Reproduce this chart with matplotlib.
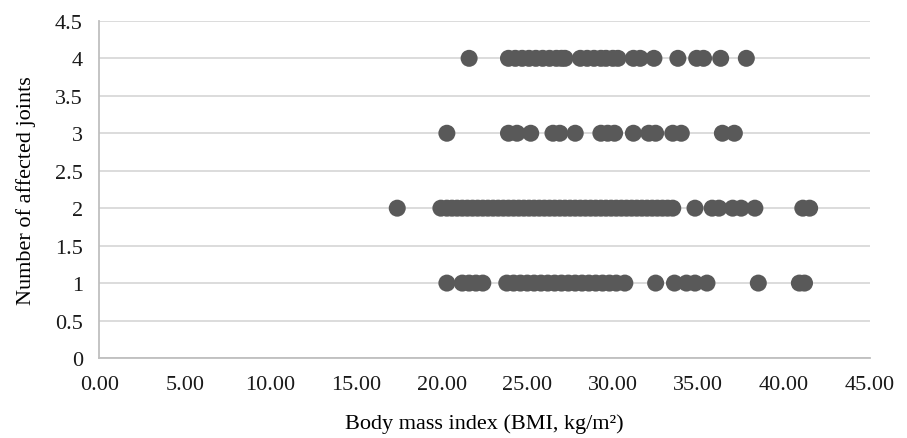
import numpy as np
import matplotlib.pyplot as plt
from matplotlib.ticker import FormatStrFormatter

plt.rcParams['font.family'] = ['Liberation Serif', 'DejaVu Serif']

# BMI values, grouped by number of affected joints
bmi_4 = [21.6, 23.9, 24.3, 24.7, 25.1, 25.5, 25.9, 26.3, 26.7, 27.0, 27.2,
         28.1, 28.5, 28.9, 29.3, 29.6, 30.0, 30.3, 31.2, 31.6, 32.4,
         33.8, 34.9, 35.3, 36.3, 37.8]
bmi_3 = [20.3, 23.9, 24.4, 25.2, 26.5, 26.9, 27.8, 29.3, 29.7, 30.1, 31.2,
         32.1, 32.5, 33.5, 34.0, 36.4, 37.1]
bmi_2 = [17.4, 19.95, 20.3, 20.6, 20.9, 21.2, 21.5, 21.8, 22.1, 22.4, 22.7,
         23.0, 23.3, 23.6, 23.9, 24.2, 24.5, 24.8, 25.1, 25.4, 25.7, 26.0,
         26.3, 26.6, 26.9, 27.2, 27.5, 27.8, 28.1, 28.4, 28.7, 29.0, 29.3,
         29.6, 29.9, 30.2, 30.5, 30.8, 31.1, 31.4, 31.7, 32.0, 32.3, 32.6,
         32.9, 33.2, 33.5, 34.8, 35.8, 36.2, 37.0, 37.5, 38.3, 41.1, 41.5]
bmi_1 = [20.3, 21.2, 21.6, 22.0, 22.4, 23.8, 24.2, 24.6, 25.0, 25.4, 25.8,
         26.2, 26.6, 27.0, 27.4, 27.8, 28.2, 28.6, 29.0, 29.4, 29.8, 30.2,
         30.7, 32.5, 33.6, 34.3, 34.8, 35.5, 38.5, 40.9, 41.2]
joints = [4, 3, 2, 1]

fig = plt.figure(figsize=(9.07, 4.39), dpi=100)
ax = fig.add_axes([0.1097, 0.1822, 0.849, 0.768])

for j, vals in zip(joints, [bmi_4, bmi_3, bmi_2, bmi_1]):
    ax.scatter(vals, [j] * len(vals), s=150, color='#595959', edgecolors='none', zorder=3)

ax.set_xlim(0, 45)
ax.set_ylim(0, 4.5)
ax.set_xticks(np.arange(0, 45.1, 5))
ax.set_yticks(np.arange(0, 4.51, 0.5))
ax.xaxis.set_major_formatter(FormatStrFormatter('%.2f'))
ax.yaxis.set_major_formatter(FormatStrFormatter('%g'))
ax.tick_params(length=0, labelsize=16, colors='#1a1a1a')
ax.tick_params(axis='x', pad=12)
ax.tick_params(axis='y', pad=12)
ax.grid(axis='y', color='#d9d9d9', linewidth=1.3)
ax.set_axisbelow(True)
for s in ['top', 'right']:
    ax.spines[s].set_visible(False)
for s in ['left', 'bottom']:
    ax.spines[s].set_color('#bfbfbf')
    ax.spines[s].set_linewidth(1.3)

ax.set_xlabel('Body mass index (BMI, kg/m²)', fontsize=16, labelpad=14)
ax.set_ylabel('Number of affected joints', fontsize=16, labelpad=14)

fig.savefig('out.png', dpi=100)
